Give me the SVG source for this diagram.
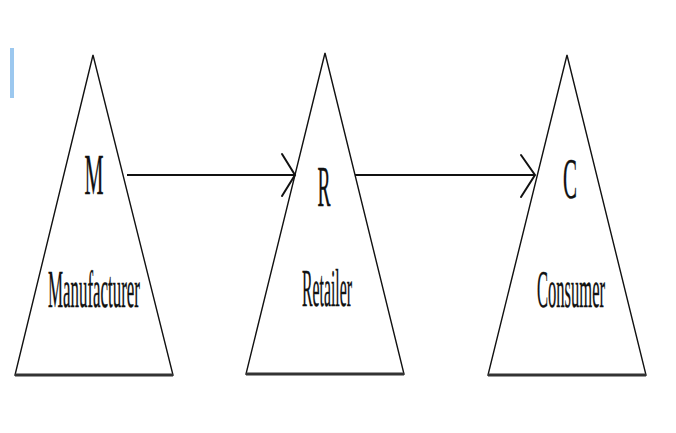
<svg xmlns="http://www.w3.org/2000/svg" width="676" height="433" viewBox="0 0 676 433">
<style>
.tri{fill:#fff;stroke:#111;stroke-width:1.4;stroke-linejoin:miter}
.base{stroke:#333;stroke-width:3;fill:none}
.lbl{font-family:"Liberation Serif","Times New Roman",serif;fill:#111;stroke:#111;stroke-width:0.4;text-anchor:middle}
.con{stroke:#111;stroke-width:2.2;fill:none}
.head{stroke:#111;stroke-width:2;fill:none;stroke-linecap:round}
</style>
<rect width="676" height="433" fill="#fff"/>
<rect x="10" y="48" width="4" height="50" fill="#9cc8ef"/>
<g id="manufacturer">
<polygon class="tri" points="93,55 15,375 173,375"/>
<line class="base" x1="15" y1="375" x2="173" y2="375"/>
<text class="lbl" x="94" y="194" font-size="56" textLength="19" lengthAdjust="spacingAndGlyphs">M</text>
<text class="lbl" x="94" y="307" font-size="52" textLength="92" lengthAdjust="spacingAndGlyphs">Manufacturer</text>
</g>
<g id="retailer">
<polygon class="tri" points="325,53 246,374 404,374"/>
<line class="base" x1="246" y1="374" x2="404" y2="374"/>
<text class="lbl" x="324" y="206" font-size="56" textLength="13" lengthAdjust="spacingAndGlyphs">R</text>
<text class="lbl" x="327" y="306" font-size="52" textLength="50" lengthAdjust="spacingAndGlyphs">Retailer</text>
</g>
<g id="consumer">
<polygon class="tri" points="567,55 488,375 646,375"/>
<line class="base" x1="488" y1="375" x2="646" y2="375"/>
<text class="lbl" x="570" y="198" font-size="56" textLength="14" lengthAdjust="spacingAndGlyphs">C</text>
<text class="lbl" x="571" y="307" font-size="52" textLength="68" lengthAdjust="spacingAndGlyphs">Consumer</text>
</g>
<g id="connectors">
<line class="con" x1="127" y1="175" x2="295" y2="175"/>
<polyline class="head" points="282,154 295,175 282,196"/>
<line class="con" x1="355" y1="175" x2="535" y2="175"/>
<polyline class="head" points="521,155 535,175 521,197"/>
</g>
</svg>
